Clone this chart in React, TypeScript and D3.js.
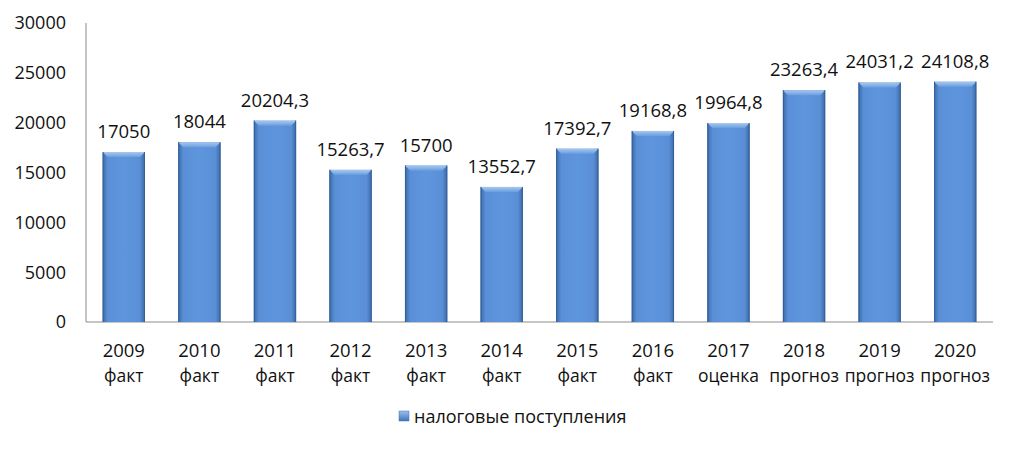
import React from "react";
import * as d3 from "d3";

const years = ["2009", "2010", "2011", "2012", "2013", "2014", "2015", "2016", "2017", "2018", "2019", "2020"];
const kinds = ["факт", "факт", "факт", "факт", "факт", "факт", "факт", "факт", "оценка", "прогноз", "прогноз", "прогноз"];
const values = [17050, 18044, 20204.3, 15263.7, 15700, 13552.7, 17392.7, 19168.8, 19964.8, 23263.4, 24031.2, 24108.8];
const yTicks = [0, 5000, 10000, 15000, 20000, 25000, 30000];
const seriesName = "налоговые поступления";

const W = 1016, H = 449;
const left = 86, right = 993, top = 23, bottom = 322;
const font = "'Open Sans', 'Noto Sans', sans-serif";

const fmt = (v: number) => (Number.isInteger(v) ? String(v) : v.toFixed(1).replace(".", ","));

export default function App() {
  const x = d3.scaleBand<number>().domain(d3.range(years.length)).range([left, right]).paddingInner(0.44).paddingOuter(0.22);
  const y = d3.scaleLinear().domain([0, 30000]).range([bottom, top]);
  const bw = x.bandwidth();
  const bev = 5;
  return (
    <svg width={W} height={H} style={{ position: "absolute", left: 0, top: 0, background: "#fff" }}>
      <defs>
        <linearGradient id="side" x1="0" x2="1" y1="0" y2="0">
          <stop offset="0" stopColor="#3a6aa8" />
          <stop offset="0.12" stopColor="#5a8fd6" />
          <stop offset="0.5" stopColor="#5e96de" />
          <stop offset="0.88" stopColor="#5a8fd6" />
          <stop offset="1" stopColor="#3a6aa8" />
        </linearGradient>
        <linearGradient id="topg" x1="0" x2="0" y1="0" y2="1">
          <stop offset="0" stopColor="#a9c8ef" />
          <stop offset="1" stopColor="#6a9fe0" />
        </linearGradient>
        <linearGradient id="leg" x1="0" x2="0" y1="0" y2="1">
          <stop offset="0" stopColor="#9cc0ee" />
          <stop offset="1" stopColor="#3f74b8" />
        </linearGradient>
      </defs>
      <line x1={left} x2={left} y1={top} y2={bottom} stroke="#8c8c8c" strokeWidth={1} />
      <line x1={left} x2={right} y1={bottom} y2={bottom} stroke="#8c8c8c" strokeWidth={1} />
      {yTicks.map((t) => (
        <text key={t} x={66} y={y(t)} dy="0.36em" textAnchor="end" fontFamily={font} fontSize={18} fill="#111">
          {t}
        </text>
      ))}
      {values.map((v, i) => {
        const x0 = x(i)!;
        const yt = y(v);
        const cx = x0 + bw / 2;
        return (
          <g key={i}>
            <rect x={x0} y={yt} width={bw} height={bottom - yt} fill="url(#side)" />
            <polygon
              points={`${x0},${yt} ${x0 + bw},${yt} ${x0 + bw - bev},${yt + bev} ${x0 + bev},${yt + bev}`}
              fill="url(#topg)"
            />
            <line x1={x0 + 0.5} x2={x0 + 0.5} y1={yt} y2={bottom} stroke="#34609a" strokeWidth={1} />
            <line x1={x0 + bw - 0.5} x2={x0 + bw - 0.5} y1={yt} y2={bottom} stroke="#34609a" strokeWidth={1} />
            <text x={cx} y={yt - 14} textAnchor="middle" fontFamily={font} fontSize={18.5} fill="#111">
              {fmt(v)}
            </text>
            <text x={cx} y={357} textAnchor="middle" fontFamily={font} fontSize={18.5} fill="#111">
              {years[i]}
            </text>
            <text x={cx} y={382} textAnchor="middle" fontFamily={font} fontSize={17.5} fill="#111">
              {kinds[i]}
            </text>
          </g>
        );
      })}
      <rect x={399} y={411} width={10} height={10} fill="url(#leg)" stroke="#3f74b8" strokeWidth={0.5} />
      <text x={414} y={423} fontFamily={font} fontSize={18} fill="#111">
        {seriesName}
      </text>
    </svg>
  );
}
